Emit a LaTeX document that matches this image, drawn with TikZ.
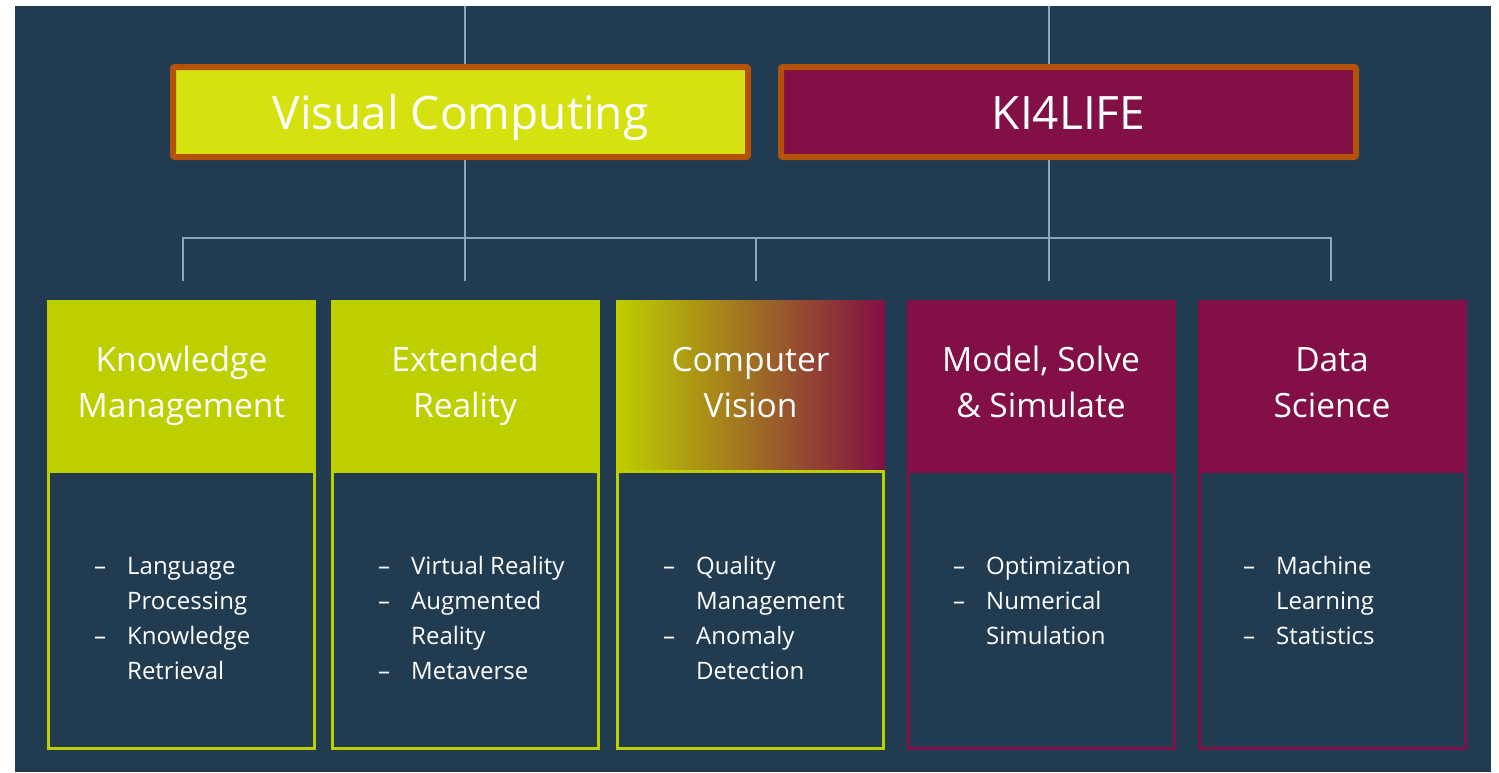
\documentclass[tikz,border=0pt]{standalone}
\usepackage{fontspec}
\setmainfont{Open Sans}
\usetikzlibrary{calc}
\definecolor{bgblue}{RGB}{33,59,81}
\definecolor{vcyellow}{RGB}{213,226,16}
\definecolor{lime}{RGB}{190,207,0}
\definecolor{maroon}{RGB}{130,15,70}
\definecolor{borderorange}{RGB}{180,82,10}
\definecolor{connline}{RGB}{140,166,190}
\tikzset{
  conn/.style={draw=connline, line width=1.4pt},
  topbox/.style={draw=borderorange, line width=6pt, rounded corners=2pt, minimum width=575pt, minimum height=90pt, inner sep=0pt, text height=40pt, text depth=6pt, text=white, font=\fontsize{46}{50}\selectfont},
  headbox/.style={minimum width=269pt, minimum height=170pt, inner sep=0pt, outer sep=0pt, anchor=north west},
  headtext/.style={text=white, anchor=base, inner sep=0pt, font=\fontsize{33.5}{46}\selectfont},
  bodybox/.style={line width=3pt, minimum width=266pt, minimum height=276.5pt, inner sep=0pt, outer sep=0pt, anchor=north west},
  listtext/.style={text=white, anchor=base west, inner sep=0pt, font=\fontsize{24}{35.3}\selectfont}
}
\newcommand{\lst}[1]{\begin{tabular}[t]{@{}p{33pt}@{}l@{}}#1\end{tabular}}
\newcommand{\hdr}[1]{\begin{tabular}[t]{@{}c@{}}#1\end{tabular}}
\begin{document}
\begin{tikzpicture}[x=1pt,y=-1pt]
\useasboundingbox (0,0) rectangle (1499,772);
\fill[white] (0,0) rectangle (1499,772);
\fill[bgblue] (15,6) rectangle (1491,772);
% connector coordinates
\coordinate (t1) at (465,6);
\coordinate (t2) at (1049,6);
\coordinate (j1) at (183,238);
\coordinate (j2) at (465,238);
\coordinate (j3) at (756,238);
\coordinate (j4) at (1049,238);
\coordinate (j5) at (1331,238);
\coordinate (d1) at (183,281);
\coordinate (d2) at (465,281);
\coordinate (d3) at (756,281);
\coordinate (d4) at (1049,281);
\coordinate (d5) at (1331,281);
\draw[conn] (t1) -- (d2);
\draw[conn] (t2) -- (d4);
\draw[conn] (d1) -- (j1) -- (j5) -- (d5);
\draw[conn] (j3) -- (d3);
% top boxes
\node[topbox, fill=vcyellow] (vc) at (460.5,112) {Visual Computing};
\node[topbox, fill=maroon] (ki) at (1068.5,112) {KI4LIFE};
% header boxes
\node[headbox, fill=lime] (h1) at (47,300) {};
\node[headbox, fill=lime] (h2) at (330.5,300) {};
\node[headbox, left color=lime, right color=maroon] (h3) at (616,300) {};
\node[headbox, fill=maroon] (h4) at (906.5,300) {};
\node[headbox, fill=maroon] (h5) at (1197.5,300) {};
\node[headtext] (ht1) at (h1.center |- 0,371) {\hdr{Knowledge\\Management}};
\node[headtext] (ht2) at (h2.center |- 0,371) {\hdr{Extended\\Reality}};
\node[headtext] (ht3) at (h3.center |- 0,371) {\hdr{Computer\\Vision}};
\node[headtext] (ht4) at (h4.center |- 0,371) {\hdr{Model, Solve\\\& Simulate}};
\node[headtext] (ht5) at (h5.center |- 0,371) {\hdr{Data\\Science}};
% body boxes
\node[bodybox, draw=lime] (b1) at (48.5,471.5) {};
\node[bodybox, draw=lime] (b2) at (332,471.5) {};
\node[bodybox, draw=lime] (b3) at (617.5,471.5) {};
\node[bodybox, draw=maroon] (b4) at (908,471.5) {};
\node[bodybox, draw=maroon] (b5) at (1199,471.5) {};
% lists
\node[listtext] (l1) at (94,574) {\lst{–&Language\\&Processing\\–&Knowledge\\&Retrieval}};
\node[listtext] (l2) at (378,574) {\lst{–&Virtual Reality\\–&Augmented\\&Reality\\–&Metaverse}};
\node[listtext] (l3) at (663,574) {\lst{–&Quality\\&Management\\–&Anomaly\\&Detection}};
\node[listtext] (l4) at (953,574) {\lst{–&Optimization\\–&Numerical\\&Simulation}};
\node[listtext] (l5) at (1243,574) {\lst{–&Machine\\&Learning\\–&Statistics}};
\end{tikzpicture}
\end{document}
